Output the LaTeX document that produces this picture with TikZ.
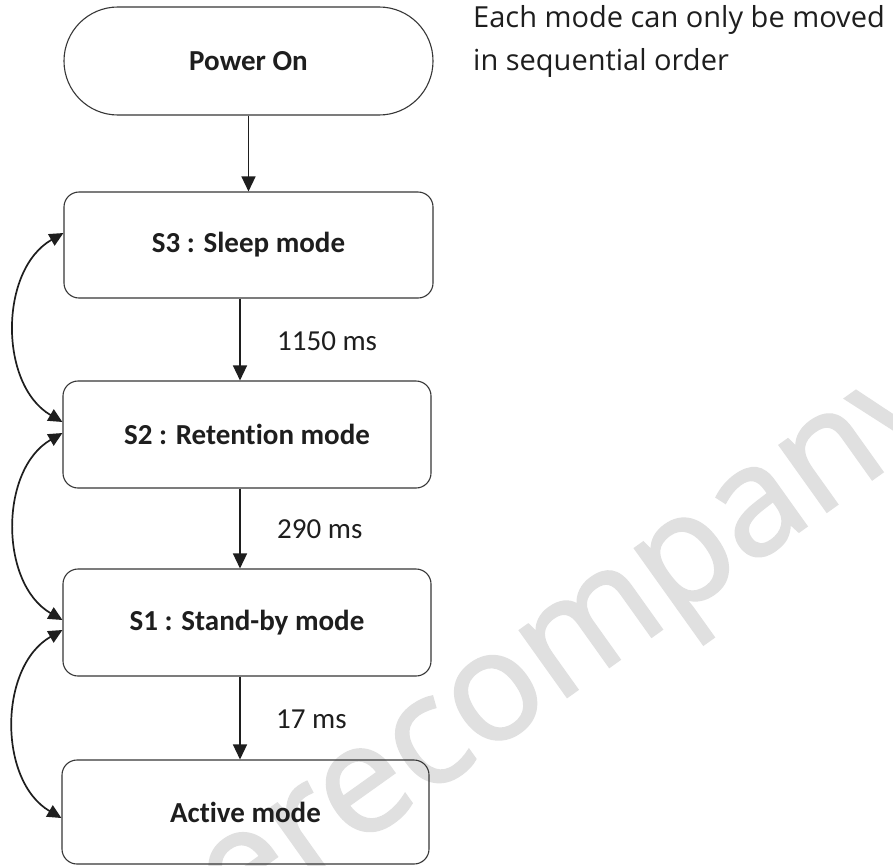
\documentclass[tikz,border=0pt]{standalone}
\usepackage{fontspec}
\setmainfont{Carlito}[Ligatures=NoCommon]
\newfontfamily\notefont{Open Sans}
\newfontface\wmfont{Open Sans}[FakeBold=1.6]
\usetikzlibrary{arrows.meta}
\definecolor{wm}{RGB}{224,224,224}
\definecolor{ln}{RGB}{30,30,30}
\definecolor{bd}{RGB}{55,55,55}
\begin{document}
\begin{tikzpicture}[x=1pt,y=-1pt,
  box/.style={draw=bd, line width=1.1pt, rounded corners=15pt, minimum width=368pt, minimum height=106pt, inner sep=0pt, font=\fontsize{29}{34}\selectfont\bfseries, text=ln},
  conn/.style={draw=ln, line width=1.4pt, -{Triangle[length=15pt,width=14pt]}},
  dconn/.style={draw=ln, line width=1.7pt, {Triangle[length=14pt,width=13pt]}-{Triangle[length=14pt,width=13pt]}},
  lbl/.style={anchor=base west, inner sep=0pt, font=\fontsize{29}{34}\selectfont, text=ln},
  note/.style={anchor=base west, inner sep=0pt, font=\notefont\fontsize{29}{43}\selectfont, text=ln}]
\useasboundingbox (0,0) rectangle (893,865);
\fill[white] (0,0) rectangle (893,865);
\begin{scope}
\clip (0,0) rectangle (893,865);
\node[anchor=base west, rotate=35.5, inner sep=0pt, text=wm, font=\wmfont\fontsize{152}{152}\selectfont] (wmark) at (236,933) {erecompany};
\end{scope}

\node[box, rounded corners=53.9pt, minimum width=369pt, minimum height=108pt] (pon) at (248.5,61) {Power On};
\node[box, minimum width=369pt] (s3) at (248.5,245) {S3 : Sleep mode};
\node[box, minimum height=107pt] (s2) at (247,434.5) {S2 : Retention mode};
\node[box, minimum height=107pt] (s1) at (247,622.5) {S1 : Stand-by mode};
\node[box, minimum width=367pt, minimum height=104pt] (act) at (245.5,812) {Active mode};

\coordinate (ax) at (240,0);
\draw[conn] (pon) -- (s3);
\draw[conn] (s3.south -| ax) -- (s2.north -| ax);
\draw[conn] (s2.south -| ax) -- (s1.north -| ax);
\draw[conn] (s1.south -| ax) -- (act.north -| ax);

\node[lbl] (t1) at (277,350) {1150 ms};
\node[lbl] (t2) at (277,538) {290 ms};
\node[lbl] (t3) at (276,728) {17 ms};

\draw[dconn] ([yshift=12pt]s3.west) to[bend right=60] ([yshift=12.5pt]s2.west);
\draw[dconn] ([yshift=1.5pt]s2.west) to[bend right=60] ([yshift=2.5pt]s1.west);
\draw[dconn] ([yshift=-7.5pt]s1.west) to[bend right=60] ([yshift=-6pt]act.west);

\node[note] (n1) at (473,27) {Each mode can only be moved};
\node[note] (n2) at (473,70) {in sequential order};
\end{tikzpicture}
\end{document}
